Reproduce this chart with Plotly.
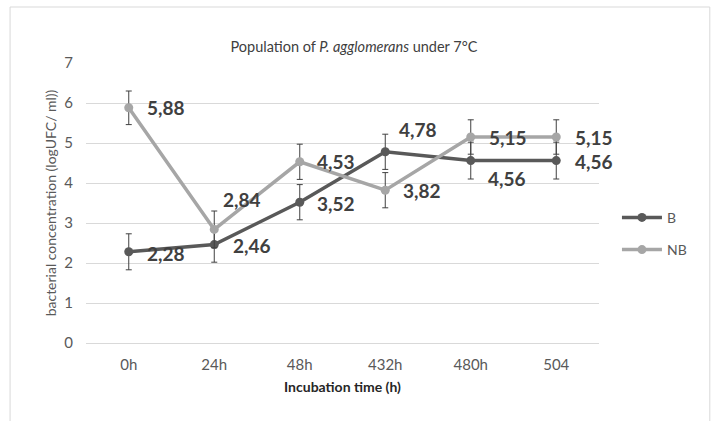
import plotly.graph_objects as go

# Incubation times and population counts (log UFC/ml)
times = ["0h", "24h", "48h", "432h", "480h", "504"]
b_values = [2.28, 2.46, 3.52, 4.78, 4.56, 4.56]
nb_values = [5.88, 2.84, 4.53, 3.82, 5.15, 5.15]
b_err = [0.45, 0.44, 0.44, 0.44, 0.46, 0.46]
nb_err = [0.42, 0.46, 0.44, 0.44, 0.43, 0.43]

B_COLOR = "#595959"
NB_COLOR = "#a6a6a6"
LABEL_COLOR = "#404040"
FONT = "Lato"

fig = go.Figure()

fig.add_trace(go.Scatter(
    x=times, y=b_values, name="B", mode="lines+markers", legendgroup="b",
    line=dict(color=B_COLOR, width=3.5),
    marker=dict(color=B_COLOR, size=9),
    error_y=dict(type="data", array=b_err, color="#404040", thickness=1, width=3),
))
fig.add_trace(go.Scatter(
    x=times, y=nb_values, name="NB", mode="lines+markers", legendgroup="nb",
    line=dict(color=NB_COLOR, width=3.5),
    marker=dict(color=NB_COLOR, size=9),
    error_y=dict(type="data", array=nb_err, color="#404040", thickness=1, width=3),
))

# Data labels: (x shift, y shift) in pixels for each point
b_offsets = [(16, -2), (17, -1), (15, -1), (12, 22), (15, -18), (17, -1)]
nb_offsets = [(16, 0), (7, 30), (15, 0), (16, 0), (16, 0), (17, 0)]

for vals, offs in ((b_values, b_offsets), (nb_values, nb_offsets)):
    for i, (v, (dx, dy)) in enumerate(zip(vals, offs)):
        fig.add_annotation(
            x=i, y=v, text=f"{v:.2f}".replace(".", ","),
            showarrow=False, xanchor="left", yanchor="middle",
            xshift=dx, yshift=dy,
            font=dict(family=FONT, size=19, color=LABEL_COLOR, weight="bold"),
        )

# Chart area frame
fig.add_shape(
    type="rect", xref="paper", yref="paper",
    x0=-0.148, x1=1.216, y0=-0.3, y1=1.2,
    line=dict(color="#d9d9d9", width=1), fillcolor="rgba(0,0,0,0)", layer="below",
)

fig.update_layout(
    width=718, height=421,
    margin=dict(l=86, r=119, t=63, b=78),
    paper_bgcolor="white", plot_bgcolor="white",
    font=dict(family=FONT, color="#595959"),
    title=dict(
        text="Population of <i>P. agglomerans</i> under 7°C",
        x=0.493, xanchor="center", y=0.888, yanchor="middle",
        font=dict(family=FONT, size=14.5, color="#404040"),
    ),
    legend=dict(
        x=1.035, y=0.39, xanchor="left", yanchor="middle",
        font=dict(family=FONT, size=14, color="#595959"),
        tracegroupgap=11, itemwidth=40,
    ),
    xaxis=dict(
        type="category", range=[-0.5, len(times) - 0.5],
        showgrid=False, zeroline=False,
        showline=True, linecolor="#d9d9d9",
        tickfont=dict(size=15, color="#595959"),
        ticks="", ticklabelstandoff=8,
        title=dict(text="<b>Incubation time (h)</b>",
                   font=dict(size=14, color="#262626"), standoff=10),
    ),
    yaxis=dict(
        range=[0, 7], dtick=1, showgrid=True, gridcolor="#d9d9d9",
        zeroline=False, showline=False,
        tickfont=dict(size=15, color="#595959"), ticklabelstandoff=12,
        title=dict(text="bacterial concentration (logUFC/ ml))",
                   font=dict(size=14, color="#595959"), standoff=4),
    ),
    showlegend=True,
)

fig.write_html("out.html")
